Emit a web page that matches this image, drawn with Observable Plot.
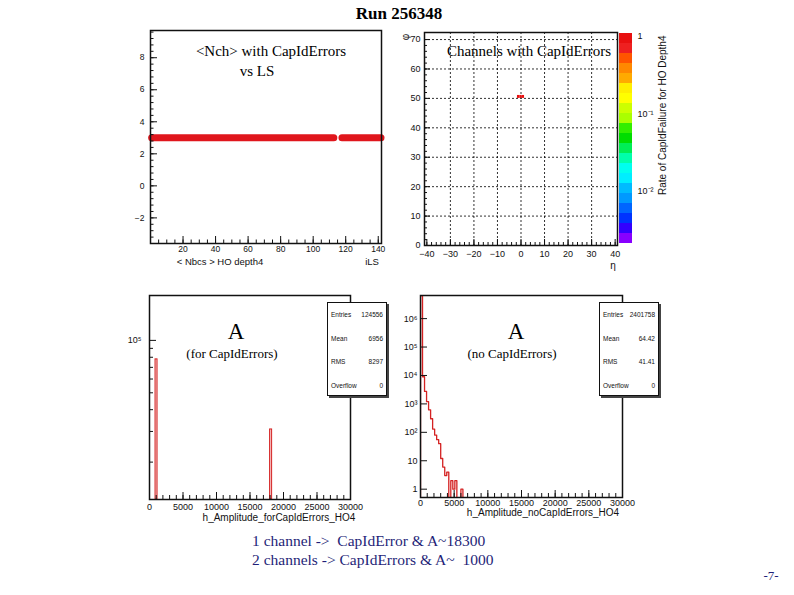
<!DOCTYPE html>
<html>
<head>
<meta charset="utf-8">
<script src="https://cdn.jsdelivr.net/npm/d3@7"></script>
<script src="https://cdn.jsdelivr.net/npm/@observablehq/plot@0.6"></script>
<style>
  body { margin: 0; background: #fff; }
  #page { position: relative; width: 794px; height: 595px; overflow: hidden; background: #fff;
          font-family: "Liberation Serif", "Times New Roman", serif; color: #000; }
  .t { position: absolute; white-space: nowrap; transform: translate(-50%, -50%); line-height: 1; }
  .ax { font-family: "Liberation Sans", Arial, sans-serif; font-size: 10px; color: #111; }
  .cap { font-size: 15.5px; color: #1f1f78; transform: translate(0, -50%); }
  .stats { position: absolute; background: #fff; border: 1px solid #111; box-shadow: 2px 2px 0 #444;
           font-family: "Liberation Sans", Arial, sans-serif; font-size: 6.5px; color: #111; }
  .stats div { position: absolute; left: 3px; right: 3px; display: flex; justify-content: space-between; }
</style>
</head>
<body>
<div id="page"></div>
<script>
// ---------------- data ----------------
const runTitle = "Run 256348";

// panel 1: <Nch> with CapIdErrors vs LS (continuous runs of lumisections at value 3)
const lsRunStart = [1, 118];
const lsRunEnd = [113, 142];
const nchValue = [3, 3];
const lsTicks = [20, 40, 60, 80, 100, 120, 140];
const nchTicks = [-2, 0, 2, 4, 6, 8];

// panel 2: channels with CapIdErrors (eta, phi)
const cellEta = [-1, 0, 1];
const cellPhi = [50, 50, 50];
const cellRate = [1, 1, 1];
const etaTicks = [-40, -30, -20, -10, 0, 10, 20, 30, 40];
const phiTicks = [0, 10, 20, 30, 40, 50, 60, 70];
const rateTicks = [1, 0.1, 0.01];
const rateTickLabels = ["1", "10\u207B\u00B9", "10\u207B\u00B2"];
const paletteColors = ["#8800ff", "#3300ff", "#0033ff", "#0066ff", "#0099ff", "#00bbff", "#00eeff",
  "#00ffee", "#00ffaa", "#00ee55", "#00dd00", "#33ee00", "#aaff00", "#ccff00", "#ffff00", "#ffee00",
  "#ffaa00", "#ff8800", "#ff5500", "#ee2020", "#e81010"];

// panel 3: amplitude for CapIdErrors
const errBinStart = [900, 18000];
const errCounts = [77800, 30800];

// panel 4: amplitude no CapIdErrors (bins of 300 starting at 0)
const noErrCounts = [6.5e6, 9000, 2750, 1200, 620, 300, 130, 80, 55, 40, 12, 6, 3, 4, 0, 2, 1, 2, 0, 0, 1];
const binWidth = 300;
const ampTicks = [0, 5000, 10000, 15000, 20000, 25000, 30000];

const statsErr = [["Entries", "124556"], ["Mean", "6956"], ["RMS", "8297"], ["Overflow", "0"]];
const statsNoErr = [["Entries", "2401758"], ["Mean", "64.42"], ["RMS", "41.41"], ["Overflow", "0"]];

const captionLines = ["1 channel ->\u00A0 CapIdError & A~18300", "2 channels -> CapIdErrors & A~\u00A0 1000"];

// ---------------- helpers ----------------
const page = document.getElementById("page");
const RED = "#e0161c";
const HRED = "#d42222";
const baseStyle = {fontFamily: "Liberation Sans, Arial, sans-serif", fontSize: "9px", color: "#111",
                   background: "none", overflow: "visible"};
const plain = d => String(d);
function place(svg, left, top) {
  svg.style.position = "absolute"; svg.style.left = left + "px"; svg.style.top = top + "px";
  page.appendChild(svg);
}
function text(str, x, y, css, cls = "t") {
  const d = document.createElement("div");
  d.className = cls; d.textContent = str;
  d.style.left = x + "px"; d.style.top = y + "px";
  Object.assign(d.style, css || {});
  page.appendChild(d);
  return d;
}
function inTicks(fw, fh, o) {
  const m = [];
  const st = {stroke: "#111", strokeWidth: 1};
  if (o.xMaj) m.push(Plot.tickX(o.xMaj, {x: d => d, insetTop: fh - (o.maj || 6), ...st}));
  if (o.xMin) m.push(Plot.tickX(o.xMin, {x: d => d, insetTop: fh - (o.min || 3), ...st}));
  if (o.yMaj) m.push(Plot.tickY(o.yMaj, {y: d => d, insetRight: fw - (o.maj || 6), ...st}));
  if (o.yMin) m.push(Plot.tickY(o.yMin, {y: d => d, insetRight: fw - (o.min || 3), ...st}));
  return m;
}
function stats(rows, left, top) {
  const box = document.createElement("div");
  box.className = "stats";
  Object.assign(box.style, {left: left + "px", top: top + "px", width: "58px", height: "92px"});
  rows.forEach((r, i) => {
    const row = document.createElement("div");
    row.style.top = (8 + i * 23.5) + "px";
    const a = document.createElement("span"); a.textContent = r[0];
    const b = document.createElement("span"); b.textContent = r[1];
    row.appendChild(a); row.appendChild(b); box.appendChild(row);
  });
  page.appendChild(box);
}

// ---------------- title ----------------
text(runTitle, 399, 13, {fontWeight: "bold", fontSize: "17px"});

// ---------------- panel 1 ----------------
{
  const W = 280, H = 245, ml = 30, mr = 19, mt = 5, mb = 27;
  const runs = lsRunStart.map((s, i) => ({start: s, end: lsRunEnd[i], value: nchValue[i]}));
  const svg = Plot.plot({
    width: W, height: H, marginLeft: ml, marginRight: mr, marginTop: mt, marginBottom: mb,
    x: {domain: [0, 142], label: null}, y: {domain: [-3.6, 9.7], label: null},
    style: baseStyle,
    marks: [
      Plot.ruleY(runs, {x1: "start", x2: "end", y: "value", stroke: RED, strokeWidth: 7, strokeLinecap: "round"}),
      Plot.axisX({ticks: lsTicks, tickSize: 0, tickPadding: 2, label: null, fontSize: 8.5}),
      Plot.axisY({ticks: nchTicks, tickSize: 0, tickPadding: 6, label: null, fontSize: 8.5}),
      ...inTicks(W - ml - mr, H - mt - mb, {
        xMaj: lsTicks, xMin: d3.range(5, 142, 5), yMaj: nchTicks,
        yMin: d3.range(-3.6, 9.7, 0.4).filter(v => v > -3.6), maj: 7, min: 3.5}),
      Plot.frame({stroke: "#111", strokeWidth: 1.5})
    ]
  });
  place(svg, 120, 25);
  text("<Nch> with CapIdErrors", 271, 51, {fontSize: "15px"});
  text("vs LS", 257, 71, {fontSize: "15px"});
  text("< Nbcs > HO depth4", 220, 262, {fontSize: "9.5px"}, "t ax");
  text("iLS", 372, 262, {fontSize: "9.5px"}, "t ax");
}

// ---------------- panel 2 (heatmap + colour bar) ----------------
const rLo = Math.log10(0.00214), rHi = Math.log10(1.09);
const nBands = paletteColors.length;
const thresholds = d3.range(1, nBands).map(i => Math.pow(10, rLo + (rHi - rLo) * i / nBands));
const colorOpts = {type: "threshold", domain: thresholds, range: paletteColors};
{
  const W = 232, H = 250, ml = 29, mr = 10, mt = 7, mb = 30;
  const cells = cellEta.map((e, i) => ({eta: e, phi: cellPhi[i], rate: cellRate[i]}));
  const grid = {stroke: "#000", strokeOpacity: 0.9, strokeDasharray: "2,2", strokeWidth: 0.9};
  const svg = Plot.plot({
    width: W, height: H, marginLeft: ml, marginRight: mr, marginTop: mt, marginBottom: mb,
    x: {domain: [-41, 41], label: null}, y: {domain: [0, 72.4], label: null},
    color: colorOpts,
    style: baseStyle,
    marks: [
      Plot.gridX(etaTicks.filter(v => Math.abs(v) < 40), grid),
      Plot.gridY(phiTicks.filter(v => v > 0), grid),
      Plot.rect(cells, {x1: d => d.eta - 0.5, x2: d => d.eta + 0.5, y1: "phi", y2: d => d.phi + 1, fill: "rate"}),
      Plot.axisX({ticks: etaTicks, tickSize: 0, tickPadding: 5.5, label: null}),
      Plot.axisY({ticks: phiTicks, tickSize: 0, tickPadding: 4, label: null}),
      ...inTicks(W - ml - mr, H - mt - mb, {
        xMaj: etaTicks, xMin: d3.range(-40, 41, 2), yMaj: phiTicks, yMin: d3.range(2, 72, 2), maj: 6, min: 3}),
      Plot.frame({stroke: "#111", strokeWidth: 1.5})
    ]
  });
  place(svg, 395, 25);
  text("Channels with CapIdErrors", 529, 51, {fontSize: "15px"});
  text("\u03B7", 613, 266, {}, "t ax");
  text("\u03C6", 406, 37, {transform: "translate(-50%,-50%) rotate(-90deg)"}, "t ax");

  const bands = d3.range(nBands).map(i => {
    const lo = Math.pow(10, rLo + (rHi - rLo) * i / nBands);
    const hi = Math.pow(10, rLo + (rHi - rLo) * (i + 1) / nBands);
    return {lo, hi, mid: Math.sqrt(lo * hi)};
  });
  const bar = Plot.plot({
    width: 60, height: 250, marginLeft: 0, marginRight: 47, marginTop: 8, marginBottom: 32,
    x: {domain: [0, 1], axis: null}, y: {type: "log", domain: [0.00214, 1.09], label: null},
    color: colorOpts,
    style: baseStyle,
    marks: [
      Plot.rect(bands, {x1: 0, x2: 1, y1: "lo", y2: "hi", fill: "mid"}),
      Plot.axisY({anchor: "right", ticks: rateTicks, tickFormat: d => rateTickLabels[rateTicks.indexOf(d)],
                  tickSize: 0, tickPadding: 5, label: null}),
      Plot.text(["Rate of CapIdFailure for HO Depth4"], {frameAnchor: "top-right", dx: 26, dy: 2,
                rotate: -90, textAnchor: "end", fontSize: 10})
    ]
  });
  place(bar, 619, 25);
}

// ---------------- panel 3 ----------------
{
  const W = 280, H = 240, ml = 29, mr = 50, mt = 5, mb = 31;
  const yLo = 12200;
  const bins = errBinStart.map((s, i) => ({x0: s, x1: s + binWidth, count: errCounts[i]}));
  const svg = Plot.plot({
    width: W, height: H, marginLeft: ml, marginRight: mr, marginTop: mt, marginBottom: mb,
    x: {domain: [0, 30000], label: null}, y: {type: "log", domain: [yLo, 181000], label: null},
    style: baseStyle,
    marks: [
      Plot.rect(bins, {x1: "x0", x2: "x1", y1: yLo, y2: "count", fill: "#f5c4c4", stroke: HRED, strokeWidth: 1}),
      Plot.axisX({ticks: ampTicks, tickFormat: plain, tickSize: 0, tickPadding: 4, label: null}),
      Plot.axisY({ticks: [1e5], tickFormat: () => "10\u2075", tickSize: 0, tickPadding: 8, label: null}),
      ...inTicks(W - ml - mr, H - mt - mb, {
        xMaj: ampTicks, xMin: d3.range(1000, 30000, 1000), yMaj: [1e5],
        yMin: [2e4, 3e4, 4e4, 5e4, 6e4, 7e4, 8e4, 9e4], maj: 7, min: 4}),
      Plot.frame({stroke: "#111", strokeWidth: 1.5})
    ]
  });
  place(svg, 120, 290);
  text("A", 236, 331, {fontSize: "23px"});
  text("(for CapIdErrors)", 232, 353, {fontSize: "13px"});
  text("h_Amplitude_forCapIdErrors_HO4", 279, 518, {}, "t ax");
  stats(statsErr, 327, 302);
}

// ---------------- panel 4 ----------------
{
  const W = 280, H = 240, ml = 25, mr = 53, mt = 5, mb = 33;
  const yLo = 0.51, floor = 0.2;
  const pts = noErrCounts.map((c, k) => ({x: k * binWidth, y: Math.max(c, floor)}));
  pts.unshift({x: 0, y: floor});
  pts.push({x: noErrCounts.length * binWidth, y: floor}, {x: 30000, y: floor});
  const yT = [1, 10, 100, 1e3, 1e4, 1e5, 1e6];
  const yLab = ["1", "10", "10\u00B2", "10\u00B3", "10\u2074", "10\u2075", "10\u2076"];
  const svg = Plot.plot({
    width: W, height: H, marginLeft: ml, marginRight: mr, marginTop: mt, marginBottom: mb,
    x: {domain: [0, 30000], label: null}, y: {type: "log", domain: [yLo, 6.5e6], label: null},
    style: baseStyle,
    marks: [
      Plot.line(pts, {x: "x", y: "y", curve: "step-after", stroke: HRED, strokeWidth: 1.3, clip: true}),
      Plot.axisX({ticks: ampTicks, tickFormat: plain, tickSize: 0, tickPadding: 2, label: null}),
      Plot.axisY({ticks: yT, tickFormat: d => yLab[yT.indexOf(d)], tickSize: 0, tickPadding: 3, label: null}),
      ...inTicks(W - ml - mr, H - mt - mb, {
        xMaj: ampTicks, xMin: d3.range(1000, 30000, 1000), yMaj: yT, maj: 7, min: 4}),
      Plot.frame({stroke: "#111", strokeWidth: 1.5})
    ]
  });
  place(svg, 395, 290);
  text("A", 516, 331, {fontSize: "23px"});
  text("(no CapIdErrors)", 512, 353, {fontSize: "13px"});
  text("h_Amplitude_noCapIdErrors_HO4", 543, 513, {}, "t ax");
  stats(statsNoErr, 599, 302);
}

// ---------------- caption ----------------
captionLines.forEach((s, i) => text(s, 252, 541 + i * 19, {}, "t cap"));
text("-7-", 771, 575, {fontSize: "13px", color: "#1f1f78"});
</script>
</body>
</html>
